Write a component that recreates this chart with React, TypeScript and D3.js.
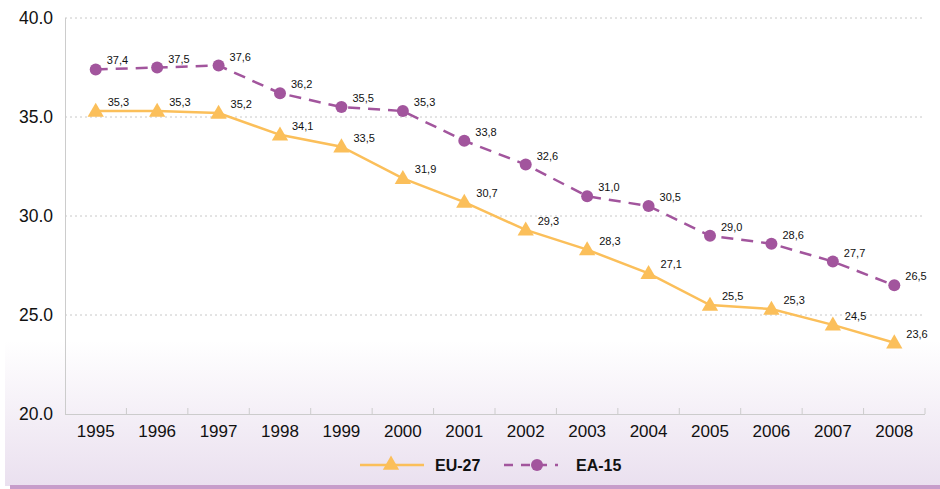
import React from 'react';
import * as d3 from 'd3';

const years = ['1995', '1996', '1997', '1998', '1999', '2000', '2001', '2002', '2003', '2004', '2005', '2006', '2007', '2008'];
const eu27 = [35.3, 35.3, 35.2, 34.1, 33.5, 31.9, 30.7, 29.3, 28.3, 27.1, 25.5, 25.3, 24.5, 23.6];
const ea15 = [37.4, 37.5, 37.6, 36.2, 35.5, 35.3, 33.8, 32.6, 31.0, 30.5, 29.0, 28.6, 27.7, 26.5];
const yTicks = [20, 25, 30, 35, 40];

const W = 940;
const H = 489;
const orange = '#fbbf5a';
const purple = '#a2559d';
const font = '"Liberation Sans", Arial, sans-serif';

const fmt = (v: number) => v.toFixed(1).replace('.', ',');

export default function App() {
  const x = d3.scaleBand<string>().domain(years).range([65, 925]);
  const y = d3.scaleLinear().domain([20, 40]).range([414, 18]);
  const cx = (d: string) => (x(d) ?? 0) + x.bandwidth() / 2;

  const line = d3.line<number>()
    .x((_, i) => cx(years[i]))
    .y(d => y(d));

  const tri = d3.symbol().type(d3.symbolTriangle).size(115)();

  return (
    <svg width={W} height={H} style={{ position: 'absolute', left: 0, top: 0, fontFamily: font }}>
      <defs>
        <linearGradient id="bg" x1="0" y1="0" x2="0" y2="1">
          <stop offset="0" stopColor="#ffffff" />
          <stop offset="0.7" stopColor="#ffffff" />
          <stop offset="1" stopColor="#eae0ef" />
        </linearGradient>
      </defs>
      <rect x={0} y={0} width={W} height={H} fill="#fff" />
      <rect x={5} y={0} width={W - 5} height={486} fill="url(#bg)" />
      <rect x={10} y={485} width={W - 10} height={4} fill="#c79dca" />

      {yTicks.filter(t => t > 20).map(t => (
        <line key={t} x1={65} x2={925} y1={y(t)} y2={y(t)} stroke="#c8c8c8" strokeDasharray="2,3" />
      ))}
      <line x1={65.5} x2={65.5} y1={18} y2={414} stroke="#cccccc" />
      <line x1={65} x2={925} y1={414.5} y2={414.5} stroke="#cccccc" />
      {years.map(d => (
        <line key={d} x1={(x(d) ?? 0) + x.bandwidth()} x2={(x(d) ?? 0) + x.bandwidth()} y1={408} y2={414} stroke="#cccccc" />
      ))}

      {yTicks.map(t => (
        <text key={t} x={53} y={y(t)} dy="0.35em" textAnchor="end" fontSize={17.5} fill="#111">{t.toFixed(1)}</text>
      ))}
      {years.map(d => (
        <text key={d} x={cx(d)} y={437} textAnchor="middle" fontSize={17} fill="#111">{d}</text>
      ))}

      <path d={line(eu27) ?? ''} fill="none" stroke={orange} strokeWidth={2.5} />
      <path d={line(ea15) ?? ''} fill="none" stroke={purple} strokeWidth={2.5} strokeDasharray="12,8" />

      {eu27.map((v, i) => (
        <g key={'e' + i}>
          <path d={tri ?? ''} transform={`translate(${cx(years[i])},${y(v) + 1})`} fill={orange} />
          <text x={cx(years[i]) + 12} y={y(v) - 5} fontSize={11} fill="#111">{fmt(v)}</text>
        </g>
      ))}
      {ea15.map((v, i) => (
        <g key={'a' + i}>
          <circle cx={cx(years[i])} cy={y(v)} r={6} fill={purple} />
          <text x={cx(years[i]) + 11} y={y(v) - 5} fontSize={11} fill="#111">{fmt(v)}</text>
        </g>
      ))}

      <g>
        <line x1={360} x2={424} y1={465} y2={465} stroke={orange} strokeWidth={2.5} />
        <path d={tri ?? ''} transform="translate(391,465)" fill={orange} />
        <text x={435} y={471} fontSize={16} fontWeight="bold" fill="#111">EU-27</text>
        <line x1={504} x2={558} y1={465} y2={465} stroke={purple} strokeWidth={2.5} strokeDasharray="9,8" />
        <circle cx={537} cy={465} r={6} fill={purple} />
        <text x={576} y={471} fontSize={16} fontWeight="bold" fill="#111">EA-15</text>
      </g>
    </svg>
  );
}
